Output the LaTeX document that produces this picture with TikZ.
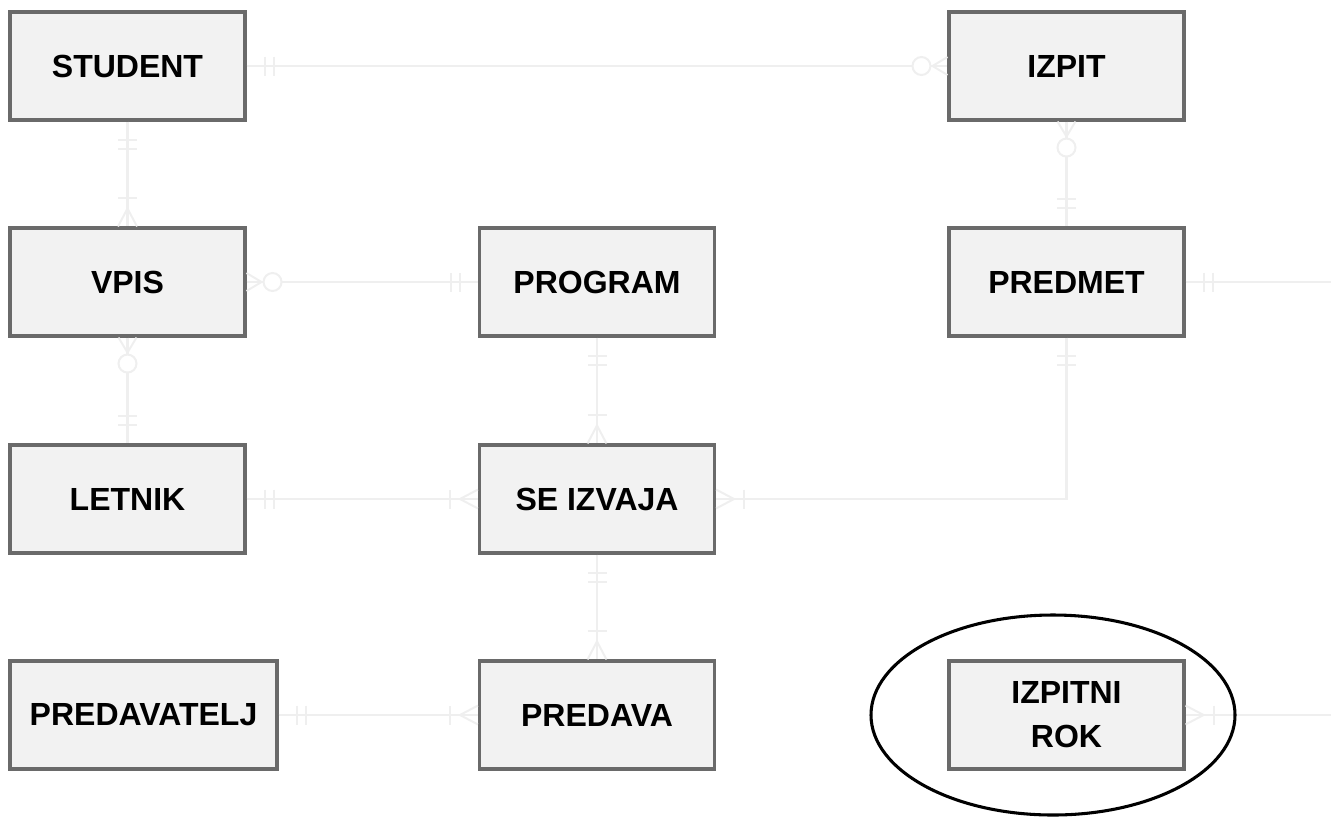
\documentclass[tikz,border=0pt]{standalone}
\usepackage{fontspec}
\setmainfont{Liberation Sans}
\usetikzlibrary{calc}
\definecolor{boxfill}{HTML}{F2F2F2}
\definecolor{boxline}{HTML}{6A6A6A}
\definecolor{relline}{HTML}{EFEFEF}

% Crow's-foot end markers, drawn in a local frame whose x axis points
% away from the entity border (units: px).
\newcommand{\mkOne}[2]{% exactly one: two bars
  \begin{scope}[shift={(#1)}, rotate=#2]
    \draw[relmark] (18,-9.5) -- (18,9.5) (27,-9.5) -- (27,9.5);
  \end{scope}}
\newcommand{\mkZeroMany}[2]{% zero or many: circle + crow's foot
  \begin{scope}[shift={(#1)}, rotate=#2]
    \draw[relmark] (15,0) -- (0,-9) (15,0) -- (0,9);
    \draw[relmark, fill=white] (26,0) circle[radius=9];
  \end{scope}}
\newcommand{\mkOneMany}[2]{% one or many: bar + crow's foot
  \begin{scope}[shift={(#1)}, rotate=#2]
    \draw[relmark] (18,0) -- (0,-9.5) (18,0) -- (0,9.5);
    \draw[relmark] (28,-9.5) -- (28,9.5);
  \end{scope}}

\begin{document}
\begin{tikzpicture}[x=0.75pt, y=-0.75pt,
  entity/.style={draw=boxline, fill=boxfill, line width=2.3pt,
    minimum width=176.25pt, minimum height=81pt, inner sep=2pt,
    align=center, font=\fontsize{24}{33}\selectfont\bfseries},
  conn/.style={draw=relline, line width=1.7pt},
  relmark/.style={draw=relline, line width=1.5pt},
  ring/.style={draw=black, line width=2.3pt}]

\useasboundingbox (0,0) rectangle (1331,819);

% entities
\node[entity] (student)  at (127.5,66)   {STUDENT};
\node[entity] (izpit)    at (1066.5,66)  {IZPIT};
\node[entity] (vpis)     at (127.5,282)  {VPIS};
\node[entity] (program)  at (597,282)    {PROGRAM};
\node[entity] (predmet)  at (1066.5,282) {PREDMET};
\node[entity] (letnik)   at (127.5,499)  {LETNIK};
\node[entity] (seizvaja) at (597,499)    {SE IZVAJA};
\node[entity, minimum width=200.25pt] (predavatelj) at (143.5,715) {PREDAVATELJ};
\node[entity] (predava)  at (597,715)    {PREDAVA};
\node[entity] (rok)      at (1066.5,715) {IZPITNI\\ROK};

\coordinate (predmetOut) at (1331,282);
\coordinate (rokOut)     at (1331,715);

% relationships
\draw[conn] (student.east) -- (izpit.west);
\mkOne{student.east}{0}
\mkZeroMany{izpit.west}{180}

\draw[conn] (student.south) -- (vpis.north);
\mkOne{student.south}{-90}
\mkOneMany{vpis.north}{90}

\draw[conn] (vpis.east) -- (program.west);
\mkZeroMany{vpis.east}{0}
\mkOne{program.west}{180}

\draw[conn] (vpis.south) -- (letnik.north);
\mkZeroMany{vpis.south}{-90}
\mkOne{letnik.north}{90}

\draw[conn] (izpit.south) -- (predmet.north);
\mkZeroMany{izpit.south}{-90}
\mkOne{predmet.north}{90}

\draw[conn] (predmet.east) -- (predmetOut);
\mkOne{predmet.east}{0}

\draw[conn] (program.south) -- (seizvaja.north);
\mkOne{program.south}{-90}
\mkOneMany{seizvaja.north}{90}

\draw[conn] (letnik.east) -- (seizvaja.west);
\mkOne{letnik.east}{0}
\mkOneMany{seizvaja.west}{180}

\draw[conn] (predmet.south) |- (seizvaja.east);
\mkOne{predmet.south}{-90}
\mkOneMany{seizvaja.east}{0}

\draw[conn] (seizvaja.south) -- (predava.north);
\mkOne{seizvaja.south}{-90}
\mkOneMany{predava.north}{90}

\draw[conn] (predavatelj.east) -- (predava.west);
\mkOne{predavatelj.east}{0}
\mkOneMany{predava.west}{180}

\draw[conn] (rok.east) -- (rokOut);
\mkOneMany{rok.east}{0}

% highlight ring
\draw[ring] (1053,715) ellipse[x radius=182, y radius=100];
\end{tikzpicture}
\end{document}
